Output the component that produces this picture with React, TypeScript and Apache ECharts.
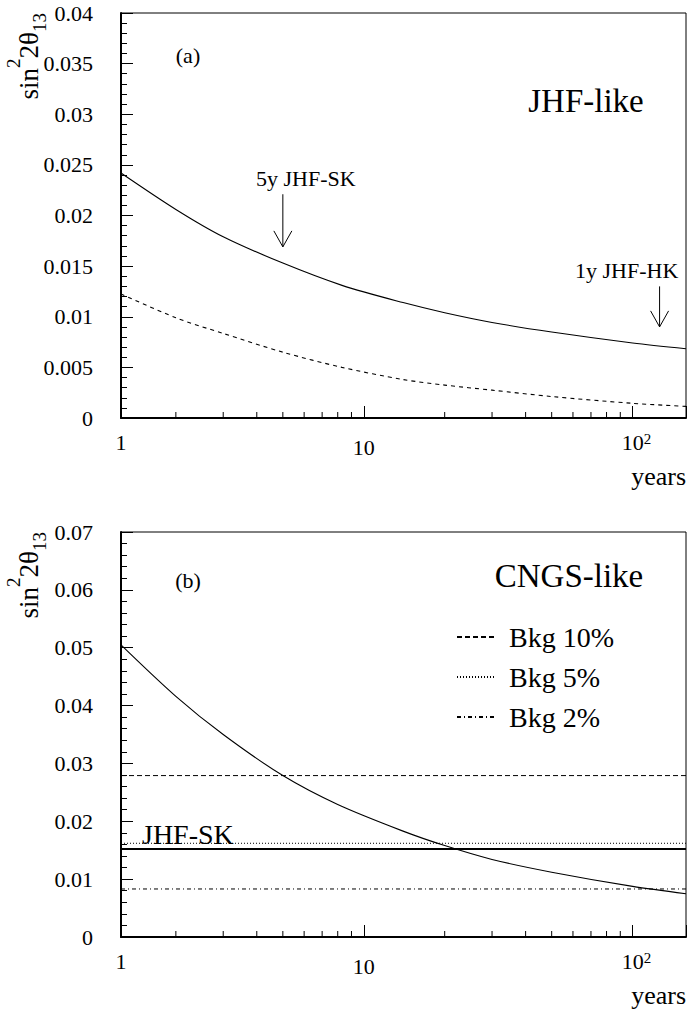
import React, { useEffect, useRef } from 'react';
import * as echarts from 'echarts';

// ---- data ----
const topYears = [1.25, 2, 3, 5, 8.3, 14, 20, 30, 50, 100, 158];
const topSolid = [0.0242, 0.0206, 0.0179, 0.0153, 0.0131, 0.0114, 0.0104, 0.00944, 0.00849, 0.00741, 0.00684];
const topDashed = [0.01225, 0.0099, 0.00835, 0.0065, 0.005, 0.0038, 0.00325, 0.00275, 0.00212, 0.00145, 0.00115];

const bottomYears = [1.25, 2, 3, 5, 8, 14, 20, 30, 50, 100, 158];
const bottomCNGS = [0.0505, 0.0416, 0.035, 0.0279, 0.0229, 0.0183, 0.0158, 0.0134, 0.0112, 0.00875, 0.00748];

const bkgNames = ['Bkg 10%', 'Bkg 5%', 'Bkg 2%'];
const bkgLevels = [0.0279, 0.0162, 0.0083];
const jhfSkLevel = 0.0152;

const arrowYears = [5, 126];
const arrowFrom = [0.0221, 0.013];
const arrowTo = [0.0169, 0.009];

const minorTickYears = [2, 3, 4, 5, 6, 7, 8, 9, 20, 30, 40, 50, 60, 70, 80, 90];
const xMin = 1.25;
const xMax = 158;
const yMaxTop = 0.04;
const yIntervalTop = 0.005;
const yMaxBottom = 0.07;
const yIntervalBottom = 0.01;

const FONT = 'Liberation Serif, Times New Roman, Times, serif';

function xAxisFor(gridIndex: number) {
  return {
    type: 'log',
    logBase: 10,
    gridIndex,
    min: xMin,
    max: xMax,
    axisLine: { show: true, lineStyle: { color: '#000', width: 2 } },
    axisTick: { show: true, inside: true, length: 12, lineStyle: { color: '#000', width: 1 } },
    minorTick: { show: false },
    splitLine: { show: false },
    axisLabel: {
      show: true,
      showMinLabel: true,
      showMaxLabel: true,
      margin: 13,
      color: '#000',
      fontFamily: FONT,
      fontSize: 22,
      formatter: (v: number) => {
        if (Math.abs(v - 10) < 1e-6) return '{b|10}';
        if (Math.abs(v - 100) < 1e-4) return '{b2|10}{s|2}';
        if (v < 2) return '{o|1}';
        return '';
      },
      rich: {
        o: { fontSize: 22, lineHeight: 22, fontFamily: FONT, color: '#000', verticalAlign: 'top' },
        b: { fontSize: 22, lineHeight: 22, fontFamily: FONT, color: '#000', padding: [11, 0, 0, 0] },
        b2: { fontSize: 22, lineHeight: 22, fontFamily: FONT, color: '#000', padding: [11, 0, 0, 8], verticalAlign: 'bottom' },
        s: { fontSize: 15, lineHeight: 15, fontFamily: FONT, color: '#000', padding: [0, 0, 18, 0], verticalAlign: 'top' },
      },
    },
  };
}

function yAxisFor(gridIndex: number, max: number, interval: number) {
  return {
    type: 'value',
    gridIndex,
    min: 0,
    max,
    interval,
    axisLine: { show: true, lineStyle: { color: '#000', width: 2 } },
    axisTick: { show: true, inside: true, length: 12, lineStyle: { color: '#000', width: 1 } },
    minorTick: { show: true, splitNumber: 5, length: 6, lineStyle: { color: '#000', width: 1 } },
    splitLine: { show: false },
    minorSplitLine: { show: false },
    axisLabel: { color: '#000', fontFamily: FONT, fontSize: 22, margin: 28 },
  };
}

function minorTickSeries(axisIndex: number) {
  return {
    type: 'custom',
    xAxisIndex: axisIndex,
    yAxisIndex: axisIndex,
    silent: true,
    clip: false,
    encode: { x: 0, y: 1 },
    data: minorTickYears.map((v) => [v, 0]),
    renderItem: (_p: any, api: any) => {
      const pt = api.coord([api.value(0), api.value(1)]);
      return {
        type: 'line',
        shape: { x1: pt[0], y1: pt[1], x2: pt[0], y2: pt[1] - 6 },
        style: { stroke: '#000', lineWidth: 1 },
      };
    },
  };
}

function hLine(name: string, level: number, type: any, width: number) {
  return {
    name,
    type: 'line',
    xAxisIndex: 1,
    yAxisIndex: 1,
    showSymbol: false,
    symbol: 'none',
    data: [
      [xMin, level],
      [xMax, level],
    ],
    lineStyle: { color: '#000', width, type },
    itemStyle: { color: '#000' },
  };
}

function curve(name: string, axis: number, xs: number[], ys: number[], type: any) {
  return {
    name,
    type: 'line',
    xAxisIndex: axis,
    yAxisIndex: axis,
    showSymbol: false,
    symbol: 'none',
    smooth: 0.3,
    data: xs.map((x, i) => [x, ys[i]]),
    lineStyle: { color: '#000', width: 1.1, type },
  };
}

function yTitle(y: number) {
  return {
    type: 'text',
    x: 4,
    y,
    rotation: Math.PI / 2,
    style: {
      text: '{m|sin}{p|2}{m|2θ}{q|13}',
      align: 'right',
      verticalAlign: 'top',
      fill: '#000',
      fontFamily: FONT,
      rich: {
        m: { fontSize: 27, lineHeight: 49, fontFamily: FONT, fill: '#000' },
        p: { fontSize: 19, lineHeight: 19, fontFamily: FONT, fill: '#000', verticalAlign: 'top' },
        q: { fontSize: 19, lineHeight: 19, fontFamily: FONT, fill: '#000', verticalAlign: 'bottom', padding: [0, 0, 4, 0] },
      },
    },
  };
}

function label(text: string, x: number, y: number, fontSize: number, align = 'left') {
  return {
    type: 'text',
    x,
    y,
    style: { text, fontSize, fontFamily: FONT, fill: '#000', align, verticalAlign: 'middle' },
  };
}

const dashDot = [4, 3, 1, 3];

const option: any = {
  animation: false,
  backgroundColor: '#fff',
  textStyle: { fontFamily: FONT },
  grid: [
    { left: 121, top: 13, width: 566, height: 405, show: true, borderColor: '#000', borderWidth: 1, backgroundColor: 'transparent' },
    { left: 121, top: 532, width: 566, height: 405, show: true, borderColor: '#000', borderWidth: 1, backgroundColor: 'transparent' },
  ],
  xAxis: [xAxisFor(0), xAxisFor(1)],
  yAxis: [yAxisFor(0, yMaxTop, yIntervalTop), yAxisFor(1, yMaxBottom, yIntervalBottom)],
  legend: {
    data: bkgNames,
    orient: 'vertical',
    left: 456,
    top: 623,
    padding: 0,
    itemWidth: 37,
    itemHeight: 14,
    itemGap: 12,
    selectedMode: false,
    itemStyle: { color: 'transparent', borderColor: 'transparent', borderWidth: 0, opacity: 0 },
    textStyle: { fontSize: 28, fontFamily: FONT, color: '#000', padding: [0, 0, 0, 10] },
  },
  series: [
    curve('JHF solid', 0, topYears, topSolid, 'solid'),
    curve('JHF dashed', 0, topYears, topDashed, [4, 4]),
    {
      name: 'arrows',
      type: 'custom',
      xAxisIndex: 0,
      yAxisIndex: 0,
      silent: true,
      clip: false,
      encode: { x: 0, y: [1, 2] },
      data: arrowYears.map((x, i) => [x, arrowFrom[i], arrowTo[i]]),
      renderItem: (_p: any, api: any) => {
        const a = api.coord([api.value(0), api.value(1)]);
        const b = api.coord([api.value(0), api.value(2)]);
        return {
          type: 'group',
          children: [
            { type: 'line', shape: { x1: a[0], y1: a[1], x2: b[0], y2: b[1] }, style: { stroke: '#000', lineWidth: 1 } },
            {
              type: 'polyline',
              shape: { points: [[b[0] - 9, b[1] - 16], [b[0], b[1]], [b[0] + 9, b[1] - 16]] },
              style: { stroke: '#000', fill: 'none', lineWidth: 1 },
            },
          ],
        };
      },
    },
    minorTickSeries(0),
    minorTickSeries(1),
    curve('CNGS', 1, bottomYears, bottomCNGS, 'solid'),
    hLine(bkgNames[0], bkgLevels[0], [5, 3], 1),
    hLine(bkgNames[1], bkgLevels[1], [1, 2], 1),
    hLine(bkgNames[2], bkgLevels[2], dashDot, 1),
    hLine('JHF-SK', jhfSkLevel, 'solid', 2),
  ],
  graphic: [
    yTitle(13),
    yTitle(532),
    label('(a)', 188, 55, 22, 'center'),
    label('JHF-like', 586, 101, 33, 'center'),
    label('5y JHF-SK', 256, 178, 22),
    label('1y JHF-HK', 575, 270, 22),
    label('years', 686, 476, 26, 'right'),
    label('(b)', 188, 580, 22, 'center'),
    label('CNGS-like', 569, 576, 33, 'center'),
    label('JHF-SK', 142, 834, 28),
    label('years', 686, 995, 26, 'right'),
  ],
};

export default function App() {
  const ref = useRef<HTMLDivElement>(null);
  useEffect(() => {
    const chart = echarts.init(ref.current as HTMLDivElement, undefined, { renderer: 'svg' });
    chart.setOption(option);
    return () => chart.dispose();
  }, []);
  return (
    <div
      ref={ref}
      style={{ position: 'absolute', left: 0, top: 0, width: 689, height: 1019, background: '#fff' }}
    />
  );
}
